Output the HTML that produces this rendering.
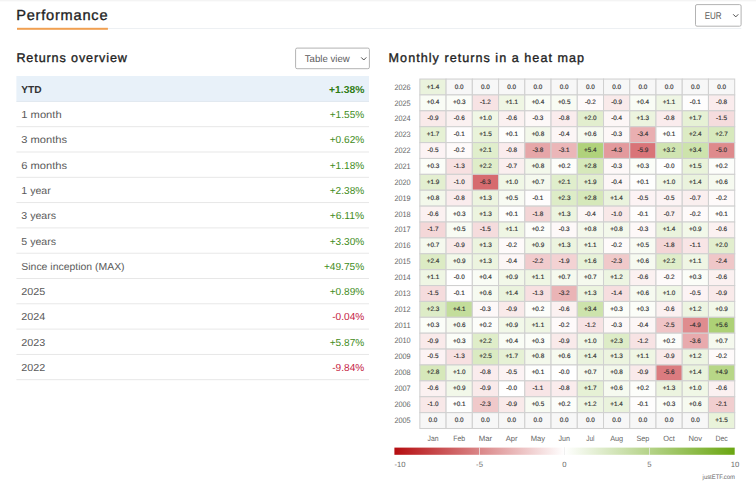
<!DOCTYPE html>
<html lang="en">
<head>
<meta charset="utf-8">
<title>Performance</title>
<style>
html,body{margin:0;padding:0;background:#fff;}
body{width:756px;height:483px;position:relative;overflow:hidden;}
svg.pg{position:absolute;left:0;top:0;display:block;font-family:"Liberation Sans",sans-serif;text-rendering:geometricPrecision;}
.h1{font-size:14.6px;fill:#222;stroke:#222;stroke-width:0.33px;letter-spacing:0.78px;}
.h2{font-size:12.6px;fill:#222;stroke:#222;stroke-width:0.33px;}
.sel{font-size:9.9px;fill:#5c5c5c;}
.tb text{font-size:10.2px;}
.tb .l{fill:#5a5a5a;}
.tb .l.b{fill:#333;font-weight:bold;}
.tb .v{text-anchor:end;}
.tb .v.b{font-weight:bold;}
.p{fill:#3f8c21;}
.n{fill:#c5223f;}
.p.b{fill:#2d7c12;}
.cl text{font-size:6.35px;fill:#333;stroke:#333;stroke-width:0.16px;text-anchor:middle;}
.yl text{font-size:7.9px;fill:#666;text-anchor:end;}
.ml text{font-size:7.7px;fill:#666;text-anchor:middle;}
.al text{font-size:7.7px;fill:#6c6c6c;text-anchor:middle;}
.cr{font-size:6.4px;fill:#666;text-anchor:end;}
</style>
</head>
<body>
<svg class="pg" width="756" height="483" viewBox="0 0 756 483">
<defs><linearGradient id="lg" x1="0" x2="1" y1="0" y2="0"><stop offset="0" stop-color="#b50d10"/><stop offset="0.5" stop-color="#ffffff"/><stop offset="1" stop-color="#6aa611"/></linearGradient></defs>
<rect x="0" y="0" width="756" height="1.4" fill="#f4f4f4"/>
<text class="h1" x="16.2" y="20.1">Performance</text>
<rect x="17" y="28.05" width="724.3" height="0.95" fill="#ecf0f3"/>
<rect x="17" y="27.8" width="90.9" height="2.0" fill="#f0a052"/>
<rect x="695.5" y="4.6" width="45.6" height="21.6" rx="1.5" fill="#fff" stroke="#b3b3b3" stroke-width="1"/>
<text class="sel" x="704.7" y="19.1" textLength="16.9" lengthAdjust="spacingAndGlyphs">EUR</text>
<path d="M733.2 14.3 L735.75 16.9 L738.3 14.3" fill="none" stroke="#4d4d4d" stroke-width="1.0"/>
<text class="h2" x="16.4" y="61.6" style="letter-spacing:0.88px">Returns overview</text>
<text class="h2" x="388.6" y="61.6" style="letter-spacing:1.03px">Monthly returns in a heat map</text>
<rect x="295.6" y="48.1" width="73.8" height="20.6" rx="1.5" fill="#fff" stroke="#b3b3b3" stroke-width="1"/>
<text class="sel" x="304.8" y="62.1" textLength="44.9" lengthAdjust="spacingAndGlyphs">Table view</text>
<path d="M361.2 57.4 L363.75 60.0 L366.3 57.4" fill="none" stroke="#4d4d4d" stroke-width="1.0"/>
<rect x="16.4" y="76.00" width="352.6" height="25.50" fill="#e8f1f9"/>
<g fill="#e0e0e0">
<rect x="16.4" y="100.95" width="352.6" height="0.9" fill="#dfe7ee"/>
<rect x="16.4" y="126.25" width="352.6" height="0.9" fill="#e5e5e5"/>
<rect x="16.4" y="151.55" width="352.6" height="0.9" fill="#e5e5e5"/>
<rect x="16.4" y="176.85" width="352.6" height="0.9" fill="#e5e5e5"/>
<rect x="16.4" y="202.15" width="352.6" height="0.9" fill="#e5e5e5"/>
<rect x="16.4" y="227.45" width="352.6" height="0.9" fill="#e5e5e5"/>
<rect x="16.4" y="252.75" width="352.6" height="0.9" fill="#e5e5e5"/>
<rect x="16.4" y="278.05" width="352.6" height="0.9" fill="#e5e5e5"/>
<rect x="16.4" y="303.35" width="352.6" height="0.9" fill="#e5e5e5"/>
<rect x="16.4" y="328.65" width="352.6" height="0.9" fill="#e5e5e5"/>
<rect x="16.4" y="353.95" width="352.6" height="0.9" fill="#e5e5e5"/>
<rect x="16.4" y="379.25" width="352.6" height="0.9" fill="#e5e5e5"/>
</g>
<g class="tb">
<text class="l b" x="21.3" y="92.70">YTD</text><text class="v p b" x="364.3" y="92.70" textLength="35.2" lengthAdjust="spacingAndGlyphs">+1.38%</text>
<text class="l" x="21.3" y="118.00" textLength="40.3" lengthAdjust="spacingAndGlyphs">1 month</text><text class="v p" x="364.3" y="118.00" textLength="34.6" lengthAdjust="spacingAndGlyphs">+1.55%</text>
<text class="l" x="21.3" y="143.30" textLength="45.8" lengthAdjust="spacingAndGlyphs">3 months</text><text class="v p" x="364.3" y="143.30" textLength="34.6" lengthAdjust="spacingAndGlyphs">+0.62%</text>
<text class="l" x="21.3" y="168.60" textLength="45.8" lengthAdjust="spacingAndGlyphs">6 months</text><text class="v p" x="364.3" y="168.60" textLength="34.6" lengthAdjust="spacingAndGlyphs">+1.18%</text>
<text class="l" x="21.3" y="193.90" textLength="29.5" lengthAdjust="spacingAndGlyphs">1 year</text><text class="v p" x="364.3" y="193.90" textLength="34.6" lengthAdjust="spacingAndGlyphs">+2.38%</text>
<text class="l" x="21.3" y="219.20" textLength="34.8" lengthAdjust="spacingAndGlyphs">3 years</text><text class="v p" x="364.3" y="219.20" textLength="34.6" lengthAdjust="spacingAndGlyphs">+6.11%</text>
<text class="l" x="21.3" y="244.50" textLength="34.8" lengthAdjust="spacingAndGlyphs">5 years</text><text class="v p" x="364.3" y="244.50" textLength="34.6" lengthAdjust="spacingAndGlyphs">+3.30%</text>
<text class="l" x="21.3" y="269.80" textLength="103.3" lengthAdjust="spacingAndGlyphs">Since inception (MAX)</text><text class="v p" x="364.3" y="269.80" textLength="40.4" lengthAdjust="spacingAndGlyphs">+49.75%</text>
<text class="l" x="21.3" y="295.10" textLength="24.0" lengthAdjust="spacingAndGlyphs">2025</text><text class="v p" x="364.3" y="295.10" textLength="34.6" lengthAdjust="spacingAndGlyphs">+0.89%</text>
<text class="l" x="21.3" y="320.40" textLength="24.0" lengthAdjust="spacingAndGlyphs">2024</text><text class="v n" x="364.3" y="320.40" textLength="32.1" lengthAdjust="spacingAndGlyphs">-0.04%</text>
<text class="l" x="21.3" y="345.70" textLength="24.0" lengthAdjust="spacingAndGlyphs">2023</text><text class="v p" x="364.3" y="345.70" textLength="34.6" lengthAdjust="spacingAndGlyphs">+5.87%</text>
<text class="l" x="21.3" y="371.00" textLength="24.0" lengthAdjust="spacingAndGlyphs">2022</text><text class="v n" x="364.3" y="371.00" textLength="32.1" lengthAdjust="spacingAndGlyphs">-9.84%</text>
</g>
<g stroke="#d0d0d0" stroke-width="1.05">
<rect x="419.85" y="79.05" width="26.24" height="15.88" fill="#eaf3dd"/>
<rect x="446.09" y="79.05" width="26.24" height="15.88" fill="#f7f7f7"/>
<rect x="472.33" y="79.05" width="26.24" height="15.88" fill="#f7f7f7"/>
<rect x="498.56" y="79.05" width="26.24" height="15.88" fill="#f7f7f7"/>
<rect x="524.80" y="79.05" width="26.24" height="15.88" fill="#f7f7f7"/>
<rect x="551.04" y="79.05" width="26.24" height="15.88" fill="#f7f7f7"/>
<rect x="577.28" y="79.05" width="26.24" height="15.88" fill="#f7f7f7"/>
<rect x="603.51" y="79.05" width="26.24" height="15.88" fill="#f7f7f7"/>
<rect x="629.75" y="79.05" width="26.24" height="15.88" fill="#f7f7f7"/>
<rect x="655.99" y="79.05" width="26.24" height="15.88" fill="#f7f7f7"/>
<rect x="682.23" y="79.05" width="26.24" height="15.88" fill="#f7f7f7"/>
<rect x="708.46" y="79.05" width="26.24" height="15.88" fill="#f7f7f7"/>
<rect x="419.85" y="94.93" width="26.24" height="15.88" fill="#f9fcf5"/>
<rect x="446.09" y="94.93" width="26.24" height="15.88" fill="#fbfdf8"/>
<rect x="472.33" y="94.93" width="26.24" height="15.88" fill="#f7e3e4"/>
<rect x="498.56" y="94.93" width="26.24" height="15.88" fill="#eff6e4"/>
<rect x="524.80" y="94.93" width="26.24" height="15.88" fill="#f9fcf5"/>
<rect x="551.04" y="94.93" width="26.24" height="15.88" fill="#f8fbf3"/>
<rect x="577.28" y="94.93" width="26.24" height="15.88" fill="#fefafa"/>
<rect x="603.51" y="94.93" width="26.24" height="15.88" fill="#f9eaea"/>
<rect x="629.75" y="94.93" width="26.24" height="15.88" fill="#f9fcf5"/>
<rect x="655.99" y="94.93" width="26.24" height="15.88" fill="#eff6e4"/>
<rect x="682.23" y="94.93" width="26.24" height="15.88" fill="#fefdfd"/>
<rect x="708.46" y="94.93" width="26.24" height="15.88" fill="#faeced"/>
<rect x="419.85" y="110.82" width="26.24" height="15.88" fill="#f9eaea"/>
<rect x="446.09" y="110.82" width="26.24" height="15.88" fill="#fbf1f1"/>
<rect x="472.33" y="110.82" width="26.24" height="15.88" fill="#f0f7e6"/>
<rect x="498.56" y="110.82" width="26.24" height="15.88" fill="#fbf1f1"/>
<rect x="524.80" y="110.82" width="26.24" height="15.88" fill="#fdf8f8"/>
<rect x="551.04" y="110.82" width="26.24" height="15.88" fill="#faeced"/>
<rect x="577.28" y="110.82" width="26.24" height="15.88" fill="#e2eece"/>
<rect x="603.51" y="110.82" width="26.24" height="15.88" fill="#fcf6f6"/>
<rect x="629.75" y="110.82" width="26.24" height="15.88" fill="#ecf4df"/>
<rect x="655.99" y="110.82" width="26.24" height="15.88" fill="#faeced"/>
<rect x="682.23" y="110.82" width="26.24" height="15.88" fill="#e6f1d5"/>
<rect x="708.46" y="110.82" width="26.24" height="15.88" fill="#f5dcdd"/>
<rect x="419.85" y="126.70" width="26.24" height="15.88" fill="#e6f1d5"/>
<rect x="446.09" y="126.70" width="26.24" height="15.88" fill="#fefdfd"/>
<rect x="472.33" y="126.70" width="26.24" height="15.88" fill="#e9f3da"/>
<rect x="498.56" y="126.70" width="26.24" height="15.88" fill="#fefefd"/>
<rect x="524.80" y="126.70" width="26.24" height="15.88" fill="#f3f8eb"/>
<rect x="551.04" y="126.70" width="26.24" height="15.88" fill="#fcf6f6"/>
<rect x="577.28" y="126.70" width="26.24" height="15.88" fill="#f6faf0"/>
<rect x="603.51" y="126.70" width="26.24" height="15.88" fill="#fdf8f8"/>
<rect x="629.75" y="126.70" width="26.24" height="15.88" fill="#e9afb1"/>
<rect x="655.99" y="126.70" width="26.24" height="15.88" fill="#fefefd"/>
<rect x="682.23" y="126.70" width="26.24" height="15.88" fill="#dcebc4"/>
<rect x="708.46" y="126.70" width="26.24" height="15.88" fill="#d7e9bd"/>
<rect x="419.85" y="142.59" width="26.24" height="15.88" fill="#fcf3f4"/>
<rect x="446.09" y="142.59" width="26.24" height="15.88" fill="#fefafa"/>
<rect x="472.33" y="142.59" width="26.24" height="15.88" fill="#e0eecc"/>
<rect x="498.56" y="142.59" width="26.24" height="15.88" fill="#faeced"/>
<rect x="524.80" y="142.59" width="26.24" height="15.88" fill="#e6a6a8"/>
<rect x="551.04" y="142.59" width="26.24" height="15.88" fill="#ebb6b8"/>
<rect x="577.28" y="142.59" width="26.24" height="15.88" fill="#b0d27b"/>
<rect x="603.51" y="142.59" width="26.24" height="15.88" fill="#e39a9d"/>
<rect x="629.75" y="142.59" width="26.24" height="15.88" fill="#d97478"/>
<rect x="655.99" y="142.59" width="26.24" height="15.88" fill="#d0e4b1"/>
<rect x="682.23" y="142.59" width="26.24" height="15.88" fill="#cde3ac"/>
<rect x="708.46" y="142.59" width="26.24" height="15.88" fill="#de8a8c"/>
<rect x="419.85" y="158.47" width="26.24" height="15.88" fill="#fbfdf8"/>
<rect x="446.09" y="158.47" width="26.24" height="15.88" fill="#f7e0e1"/>
<rect x="472.33" y="158.47" width="26.24" height="15.88" fill="#dfedc9"/>
<rect x="498.56" y="158.47" width="26.24" height="15.88" fill="#faefef"/>
<rect x="524.80" y="158.47" width="26.24" height="15.88" fill="#f3f8eb"/>
<rect x="551.04" y="158.47" width="26.24" height="15.88" fill="#fcfdfa"/>
<rect x="577.28" y="158.47" width="26.24" height="15.88" fill="#d6e8ba"/>
<rect x="603.51" y="158.47" width="26.24" height="15.88" fill="#fdf8f8"/>
<rect x="629.75" y="158.47" width="26.24" height="15.88" fill="#fbfdf8"/>
<rect x="655.99" y="158.47" width="26.24" height="15.88" fill="#ffffff"/>
<rect x="682.23" y="158.47" width="26.24" height="15.88" fill="#e9f3da"/>
<rect x="708.46" y="158.47" width="26.24" height="15.88" fill="#fcfdfa"/>
<rect x="419.85" y="174.35" width="26.24" height="15.88" fill="#e3efd0"/>
<rect x="446.09" y="174.35" width="26.24" height="15.88" fill="#f8e8e8"/>
<rect x="472.33" y="174.35" width="26.24" height="15.88" fill="#d66b6f"/>
<rect x="498.56" y="174.35" width="26.24" height="15.88" fill="#f0f7e6"/>
<rect x="524.80" y="174.35" width="26.24" height="15.88" fill="#f5f9ee"/>
<rect x="551.04" y="174.35" width="26.24" height="15.88" fill="#e0eecc"/>
<rect x="577.28" y="174.35" width="26.24" height="15.88" fill="#e3efd0"/>
<rect x="603.51" y="174.35" width="26.24" height="15.88" fill="#fcf6f6"/>
<rect x="629.75" y="174.35" width="26.24" height="15.88" fill="#fefefd"/>
<rect x="655.99" y="174.35" width="26.24" height="15.88" fill="#f0f7e6"/>
<rect x="682.23" y="174.35" width="26.24" height="15.88" fill="#eaf3dd"/>
<rect x="708.46" y="174.35" width="26.24" height="15.88" fill="#f6faf0"/>
<rect x="419.85" y="190.24" width="26.24" height="15.88" fill="#f3f8eb"/>
<rect x="446.09" y="190.24" width="26.24" height="15.88" fill="#faeced"/>
<rect x="472.33" y="190.24" width="26.24" height="15.88" fill="#ecf4df"/>
<rect x="498.56" y="190.24" width="26.24" height="15.88" fill="#f8fbf3"/>
<rect x="524.80" y="190.24" width="26.24" height="15.88" fill="#fefdfd"/>
<rect x="551.04" y="190.24" width="26.24" height="15.88" fill="#ddecc7"/>
<rect x="577.28" y="190.24" width="26.24" height="15.88" fill="#d6e8ba"/>
<rect x="603.51" y="190.24" width="26.24" height="15.88" fill="#eaf3dd"/>
<rect x="629.75" y="190.24" width="26.24" height="15.88" fill="#fcf3f4"/>
<rect x="655.99" y="190.24" width="26.24" height="15.88" fill="#fcf3f4"/>
<rect x="682.23" y="190.24" width="26.24" height="15.88" fill="#faefef"/>
<rect x="708.46" y="190.24" width="26.24" height="15.88" fill="#fefafa"/>
<rect x="419.85" y="206.12" width="26.24" height="15.88" fill="#fbf1f1"/>
<rect x="446.09" y="206.12" width="26.24" height="15.88" fill="#fbfdf8"/>
<rect x="472.33" y="206.12" width="26.24" height="15.88" fill="#ecf4df"/>
<rect x="498.56" y="206.12" width="26.24" height="15.88" fill="#fefefd"/>
<rect x="524.80" y="206.12" width="26.24" height="15.88" fill="#f3d5d6"/>
<rect x="551.04" y="206.12" width="26.24" height="15.88" fill="#ecf4df"/>
<rect x="577.28" y="206.12" width="26.24" height="15.88" fill="#fcf6f6"/>
<rect x="603.51" y="206.12" width="26.24" height="15.88" fill="#f8e8e8"/>
<rect x="629.75" y="206.12" width="26.24" height="15.88" fill="#fefdfd"/>
<rect x="655.99" y="206.12" width="26.24" height="15.88" fill="#faefef"/>
<rect x="682.23" y="206.12" width="26.24" height="15.88" fill="#fefafa"/>
<rect x="708.46" y="206.12" width="26.24" height="15.88" fill="#fefefd"/>
<rect x="419.85" y="222.01" width="26.24" height="15.88" fill="#f4d7d8"/>
<rect x="446.09" y="222.01" width="26.24" height="15.88" fill="#f8fbf3"/>
<rect x="472.33" y="222.01" width="26.24" height="15.88" fill="#f5dcdd"/>
<rect x="498.56" y="222.01" width="26.24" height="15.88" fill="#eff6e4"/>
<rect x="524.80" y="222.01" width="26.24" height="15.88" fill="#fcfdfa"/>
<rect x="551.04" y="222.01" width="26.24" height="15.88" fill="#fdf8f8"/>
<rect x="577.28" y="222.01" width="26.24" height="15.88" fill="#f3f8eb"/>
<rect x="603.51" y="222.01" width="26.24" height="15.88" fill="#f3f8eb"/>
<rect x="629.75" y="222.01" width="26.24" height="15.88" fill="#fdf8f8"/>
<rect x="655.99" y="222.01" width="26.24" height="15.88" fill="#eaf3dd"/>
<rect x="682.23" y="222.01" width="26.24" height="15.88" fill="#f2f8e9"/>
<rect x="708.46" y="222.01" width="26.24" height="15.88" fill="#fbf1f1"/>
<rect x="419.85" y="237.89" width="26.24" height="15.88" fill="#f5f9ee"/>
<rect x="446.09" y="237.89" width="26.24" height="15.88" fill="#f9eaea"/>
<rect x="472.33" y="237.89" width="26.24" height="15.88" fill="#ecf4df"/>
<rect x="498.56" y="237.89" width="26.24" height="15.88" fill="#fefafa"/>
<rect x="524.80" y="237.89" width="26.24" height="15.88" fill="#f2f8e9"/>
<rect x="551.04" y="237.89" width="26.24" height="15.88" fill="#ecf4df"/>
<rect x="577.28" y="237.89" width="26.24" height="15.88" fill="#eff6e4"/>
<rect x="603.51" y="237.89" width="26.24" height="15.88" fill="#fefafa"/>
<rect x="629.75" y="237.89" width="26.24" height="15.88" fill="#f8fbf3"/>
<rect x="655.99" y="237.89" width="26.24" height="15.88" fill="#f3d5d6"/>
<rect x="682.23" y="237.89" width="26.24" height="15.88" fill="#f8e5e6"/>
<rect x="708.46" y="237.89" width="26.24" height="15.88" fill="#e2eece"/>
<rect x="419.85" y="253.77" width="26.24" height="15.88" fill="#dcebc4"/>
<rect x="446.09" y="253.77" width="26.24" height="15.88" fill="#f2f8e9"/>
<rect x="472.33" y="253.77" width="26.24" height="15.88" fill="#ecf4df"/>
<rect x="498.56" y="253.77" width="26.24" height="15.88" fill="#fcf6f6"/>
<rect x="524.80" y="253.77" width="26.24" height="15.88" fill="#f1cbcd"/>
<rect x="551.04" y="253.77" width="26.24" height="15.88" fill="#f3d2d3"/>
<rect x="577.28" y="253.77" width="26.24" height="15.88" fill="#e7f2d8"/>
<rect x="603.51" y="253.77" width="26.24" height="15.88" fill="#f0c9ca"/>
<rect x="629.75" y="253.77" width="26.24" height="15.88" fill="#f6faf0"/>
<rect x="655.99" y="253.77" width="26.24" height="15.88" fill="#dfedc9"/>
<rect x="682.23" y="253.77" width="26.24" height="15.88" fill="#eff6e4"/>
<rect x="708.46" y="253.77" width="26.24" height="15.88" fill="#efc7c8"/>
<rect x="419.85" y="269.66" width="26.24" height="15.88" fill="#eff6e4"/>
<rect x="446.09" y="269.66" width="26.24" height="15.88" fill="#ffffff"/>
<rect x="472.33" y="269.66" width="26.24" height="15.88" fill="#f9fcf5"/>
<rect x="498.56" y="269.66" width="26.24" height="15.88" fill="#f2f8e9"/>
<rect x="524.80" y="269.66" width="26.24" height="15.88" fill="#eff6e4"/>
<rect x="551.04" y="269.66" width="26.24" height="15.88" fill="#f5f9ee"/>
<rect x="577.28" y="269.66" width="26.24" height="15.88" fill="#f5f9ee"/>
<rect x="603.51" y="269.66" width="26.24" height="15.88" fill="#edf5e2"/>
<rect x="629.75" y="269.66" width="26.24" height="15.88" fill="#fbf1f1"/>
<rect x="655.99" y="269.66" width="26.24" height="15.88" fill="#fefafa"/>
<rect x="682.23" y="269.66" width="26.24" height="15.88" fill="#fbfdf8"/>
<rect x="708.46" y="269.66" width="26.24" height="15.88" fill="#fbf1f1"/>
<rect x="419.85" y="285.54" width="26.24" height="15.88" fill="#f5dcdd"/>
<rect x="446.09" y="285.54" width="26.24" height="15.88" fill="#fefdfd"/>
<rect x="472.33" y="285.54" width="26.24" height="15.88" fill="#f6faf0"/>
<rect x="498.56" y="285.54" width="26.24" height="15.88" fill="#eaf3dd"/>
<rect x="524.80" y="285.54" width="26.24" height="15.88" fill="#f7e0e1"/>
<rect x="551.04" y="285.54" width="26.24" height="15.88" fill="#eab4b6"/>
<rect x="577.28" y="285.54" width="26.24" height="15.88" fill="#ecf4df"/>
<rect x="603.51" y="285.54" width="26.24" height="15.88" fill="#f6dedf"/>
<rect x="629.75" y="285.54" width="26.24" height="15.88" fill="#f6faf0"/>
<rect x="655.99" y="285.54" width="26.24" height="15.88" fill="#f0f7e6"/>
<rect x="682.23" y="285.54" width="26.24" height="15.88" fill="#fcf3f4"/>
<rect x="708.46" y="285.54" width="26.24" height="15.88" fill="#f9eaea"/>
<rect x="419.85" y="301.43" width="26.24" height="15.88" fill="#ddecc7"/>
<rect x="446.09" y="301.43" width="26.24" height="15.88" fill="#c3dd9b"/>
<rect x="472.33" y="301.43" width="26.24" height="15.88" fill="#fdf8f8"/>
<rect x="498.56" y="301.43" width="26.24" height="15.88" fill="#f9eaea"/>
<rect x="524.80" y="301.43" width="26.24" height="15.88" fill="#fcfdfa"/>
<rect x="551.04" y="301.43" width="26.24" height="15.88" fill="#fbf1f1"/>
<rect x="577.28" y="301.43" width="26.24" height="15.88" fill="#cde3ac"/>
<rect x="603.51" y="301.43" width="26.24" height="15.88" fill="#fbfdf8"/>
<rect x="629.75" y="301.43" width="26.24" height="15.88" fill="#fbfdf8"/>
<rect x="655.99" y="301.43" width="26.24" height="15.88" fill="#fbf1f1"/>
<rect x="682.23" y="301.43" width="26.24" height="15.88" fill="#edf5e2"/>
<rect x="708.46" y="301.43" width="26.24" height="15.88" fill="#f2f8e9"/>
<rect x="419.85" y="317.31" width="26.24" height="15.88" fill="#fbfdf8"/>
<rect x="446.09" y="317.31" width="26.24" height="15.88" fill="#f6faf0"/>
<rect x="472.33" y="317.31" width="26.24" height="15.88" fill="#fcfdfa"/>
<rect x="498.56" y="317.31" width="26.24" height="15.88" fill="#f2f8e9"/>
<rect x="524.80" y="317.31" width="26.24" height="15.88" fill="#eff6e4"/>
<rect x="551.04" y="317.31" width="26.24" height="15.88" fill="#fefafa"/>
<rect x="577.28" y="317.31" width="26.24" height="15.88" fill="#f7e3e4"/>
<rect x="603.51" y="317.31" width="26.24" height="15.88" fill="#fdf8f8"/>
<rect x="629.75" y="317.31" width="26.24" height="15.88" fill="#fcf6f6"/>
<rect x="655.99" y="317.31" width="26.24" height="15.88" fill="#efc4c6"/>
<rect x="682.23" y="317.31" width="26.24" height="15.88" fill="#df8c8f"/>
<rect x="708.46" y="317.31" width="26.24" height="15.88" fill="#add176"/>
<rect x="419.85" y="333.20" width="26.24" height="15.88" fill="#f9eaea"/>
<rect x="446.09" y="333.20" width="26.24" height="15.88" fill="#fbfdf8"/>
<rect x="472.33" y="333.20" width="26.24" height="15.88" fill="#dfedc9"/>
<rect x="498.56" y="333.20" width="26.24" height="15.88" fill="#f9fcf5"/>
<rect x="524.80" y="333.20" width="26.24" height="15.88" fill="#fbfdf8"/>
<rect x="551.04" y="333.20" width="26.24" height="15.88" fill="#f9eaea"/>
<rect x="577.28" y="333.20" width="26.24" height="15.88" fill="#f0f7e6"/>
<rect x="603.51" y="333.20" width="26.24" height="15.88" fill="#ddecc7"/>
<rect x="629.75" y="333.20" width="26.24" height="15.88" fill="#f7e3e4"/>
<rect x="655.99" y="333.20" width="26.24" height="15.88" fill="#fcfdfa"/>
<rect x="682.23" y="333.20" width="26.24" height="15.88" fill="#e8aaad"/>
<rect x="708.46" y="333.20" width="26.24" height="15.88" fill="#f5f9ee"/>
<rect x="419.85" y="349.08" width="26.24" height="15.88" fill="#fcf3f4"/>
<rect x="446.09" y="349.08" width="26.24" height="15.88" fill="#f7e0e1"/>
<rect x="472.33" y="349.08" width="26.24" height="15.88" fill="#daeac2"/>
<rect x="498.56" y="349.08" width="26.24" height="15.88" fill="#e6f1d5"/>
<rect x="524.80" y="349.08" width="26.24" height="15.88" fill="#f3f8eb"/>
<rect x="551.04" y="349.08" width="26.24" height="15.88" fill="#f6faf0"/>
<rect x="577.28" y="349.08" width="26.24" height="15.88" fill="#eaf3dd"/>
<rect x="603.51" y="349.08" width="26.24" height="15.88" fill="#ecf4df"/>
<rect x="629.75" y="349.08" width="26.24" height="15.88" fill="#eff6e4"/>
<rect x="655.99" y="349.08" width="26.24" height="15.88" fill="#f9eaea"/>
<rect x="682.23" y="349.08" width="26.24" height="15.88" fill="#edf5e2"/>
<rect x="708.46" y="349.08" width="26.24" height="15.88" fill="#fefafa"/>
<rect x="419.85" y="364.96" width="26.24" height="15.88" fill="#d6e8ba"/>
<rect x="446.09" y="364.96" width="26.24" height="15.88" fill="#f0f7e6"/>
<rect x="472.33" y="364.96" width="26.24" height="15.88" fill="#faeced"/>
<rect x="498.56" y="364.96" width="26.24" height="15.88" fill="#fcf3f4"/>
<rect x="524.80" y="364.96" width="26.24" height="15.88" fill="#fefefd"/>
<rect x="551.04" y="364.96" width="26.24" height="15.88" fill="#ffffff"/>
<rect x="577.28" y="364.96" width="26.24" height="15.88" fill="#f5f9ee"/>
<rect x="603.51" y="364.96" width="26.24" height="15.88" fill="#f3f8eb"/>
<rect x="629.75" y="364.96" width="26.24" height="15.88" fill="#f9eaea"/>
<rect x="655.99" y="364.96" width="26.24" height="15.88" fill="#db7b7f"/>
<rect x="682.23" y="364.96" width="26.24" height="15.88" fill="#eaf3dd"/>
<rect x="708.46" y="364.96" width="26.24" height="15.88" fill="#b7d687"/>
<rect x="419.85" y="380.85" width="26.24" height="15.88" fill="#fbf1f1"/>
<rect x="446.09" y="380.85" width="26.24" height="15.88" fill="#f2f8e9"/>
<rect x="472.33" y="380.85" width="26.24" height="15.88" fill="#f9eaea"/>
<rect x="498.56" y="380.85" width="26.24" height="15.88" fill="#ffffff"/>
<rect x="524.80" y="380.85" width="26.24" height="15.88" fill="#f8e5e6"/>
<rect x="551.04" y="380.85" width="26.24" height="15.88" fill="#faeced"/>
<rect x="577.28" y="380.85" width="26.24" height="15.88" fill="#e6f1d5"/>
<rect x="603.51" y="380.85" width="26.24" height="15.88" fill="#f6faf0"/>
<rect x="629.75" y="380.85" width="26.24" height="15.88" fill="#fcfdfa"/>
<rect x="655.99" y="380.85" width="26.24" height="15.88" fill="#ecf4df"/>
<rect x="682.23" y="380.85" width="26.24" height="15.88" fill="#f0f7e6"/>
<rect x="708.46" y="380.85" width="26.24" height="15.88" fill="#fbf1f1"/>
<rect x="419.85" y="396.73" width="26.24" height="15.88" fill="#f8e8e8"/>
<rect x="446.09" y="396.73" width="26.24" height="15.88" fill="#fefefd"/>
<rect x="472.33" y="396.73" width="26.24" height="15.88" fill="#f0c9ca"/>
<rect x="498.56" y="396.73" width="26.24" height="15.88" fill="#f9eaea"/>
<rect x="524.80" y="396.73" width="26.24" height="15.88" fill="#f8fbf3"/>
<rect x="551.04" y="396.73" width="26.24" height="15.88" fill="#fcfdfa"/>
<rect x="577.28" y="396.73" width="26.24" height="15.88" fill="#edf5e2"/>
<rect x="603.51" y="396.73" width="26.24" height="15.88" fill="#eaf3dd"/>
<rect x="629.75" y="396.73" width="26.24" height="15.88" fill="#fefdfd"/>
<rect x="655.99" y="396.73" width="26.24" height="15.88" fill="#fbfdf8"/>
<rect x="682.23" y="396.73" width="26.24" height="15.88" fill="#f6faf0"/>
<rect x="708.46" y="396.73" width="26.24" height="15.88" fill="#f1cecf"/>
<rect x="419.85" y="412.62" width="26.24" height="15.88" fill="#f7f7f7"/>
<rect x="446.09" y="412.62" width="26.24" height="15.88" fill="#f7f7f7"/>
<rect x="472.33" y="412.62" width="26.24" height="15.88" fill="#f7f7f7"/>
<rect x="498.56" y="412.62" width="26.24" height="15.88" fill="#f7f7f7"/>
<rect x="524.80" y="412.62" width="26.24" height="15.88" fill="#f7f7f7"/>
<rect x="551.04" y="412.62" width="26.24" height="15.88" fill="#f7f7f7"/>
<rect x="577.28" y="412.62" width="26.24" height="15.88" fill="#f7f7f7"/>
<rect x="603.51" y="412.62" width="26.24" height="15.88" fill="#f7f7f7"/>
<rect x="629.75" y="412.62" width="26.24" height="15.88" fill="#f7f7f7"/>
<rect x="655.99" y="412.62" width="26.24" height="15.88" fill="#f7f7f7"/>
<rect x="682.23" y="412.62" width="26.24" height="15.88" fill="#f7f7f7"/>
<rect x="708.46" y="412.62" width="26.24" height="15.88" fill="#e9f3da"/>
</g>
<g class="cl">
<text x="432.97" y="88.61">+1.4</text>
<text x="459.21" y="88.61">0.0</text>
<text x="485.44" y="88.61">0.0</text>
<text x="511.68" y="88.61">0.0</text>
<text x="537.92" y="88.61">0.0</text>
<text x="564.16" y="88.61">0.0</text>
<text x="590.39" y="88.61">0.0</text>
<text x="616.63" y="88.61">0.0</text>
<text x="642.87" y="88.61">0.0</text>
<text x="669.11" y="88.61">0.0</text>
<text x="695.34" y="88.61">0.0</text>
<text x="721.58" y="88.61">0.0</text>
<text x="432.97" y="104.48">+0.4</text>
<text x="459.21" y="104.48">+0.3</text>
<text x="485.44" y="104.48">-1.2</text>
<text x="511.68" y="104.48">+1.1</text>
<text x="537.92" y="104.48">+0.4</text>
<text x="564.16" y="104.48">+0.5</text>
<text x="590.39" y="104.48">-0.2</text>
<text x="616.63" y="104.48">-0.9</text>
<text x="642.87" y="104.48">+0.4</text>
<text x="669.11" y="104.48">+1.1</text>
<text x="695.34" y="104.48">-0.1</text>
<text x="721.58" y="104.48">-0.8</text>
<text x="432.97" y="120.36">-0.9</text>
<text x="459.21" y="120.36">-0.6</text>
<text x="485.44" y="120.36">+1.0</text>
<text x="511.68" y="120.36">-0.6</text>
<text x="537.92" y="120.36">-0.3</text>
<text x="564.16" y="120.36">-0.8</text>
<text x="590.39" y="120.36">+2.0</text>
<text x="616.63" y="120.36">-0.4</text>
<text x="642.87" y="120.36">+1.3</text>
<text x="669.11" y="120.36">-0.8</text>
<text x="695.34" y="120.36">+1.7</text>
<text x="721.58" y="120.36">-1.5</text>
<text x="432.97" y="136.23">+1.7</text>
<text x="459.21" y="136.23">-0.1</text>
<text x="485.44" y="136.23">+1.5</text>
<text x="511.68" y="136.23">+0.1</text>
<text x="537.92" y="136.23">+0.8</text>
<text x="564.16" y="136.23">-0.4</text>
<text x="590.39" y="136.23">+0.6</text>
<text x="616.63" y="136.23">-0.3</text>
<text x="642.87" y="136.23">-3.4</text>
<text x="669.11" y="136.23">+0.1</text>
<text x="695.34" y="136.23">+2.4</text>
<text x="721.58" y="136.23">+2.7</text>
<text x="432.97" y="152.10">-0.5</text>
<text x="459.21" y="152.10">-0.2</text>
<text x="485.44" y="152.10">+2.1</text>
<text x="511.68" y="152.10">-0.8</text>
<text x="537.92" y="152.10">-3.8</text>
<text x="564.16" y="152.10">-3.1</text>
<text x="590.39" y="152.10">+5.4</text>
<text x="616.63" y="152.10">-4.3</text>
<text x="642.87" y="152.10">-5.9</text>
<text x="669.11" y="152.10">+3.2</text>
<text x="695.34" y="152.10">+3.4</text>
<text x="721.58" y="152.10">-5.0</text>
<text x="432.97" y="167.97">+0.3</text>
<text x="459.21" y="167.97">-1.3</text>
<text x="485.44" y="167.97">+2.2</text>
<text x="511.68" y="167.97">-0.7</text>
<text x="537.92" y="167.97">+0.8</text>
<text x="564.16" y="167.97">+0.2</text>
<text x="590.39" y="167.97">+2.8</text>
<text x="616.63" y="167.97">-0.3</text>
<text x="642.87" y="167.97">+0.3</text>
<text x="669.11" y="167.97">-0.0</text>
<text x="695.34" y="167.97">+1.5</text>
<text x="721.58" y="167.97">+0.2</text>
<text x="432.97" y="183.84">+1.9</text>
<text x="459.21" y="183.84">-1.0</text>
<text x="485.44" y="183.84">-6.3</text>
<text x="511.68" y="183.84">+1.0</text>
<text x="537.92" y="183.84">+0.7</text>
<text x="564.16" y="183.84">+2.1</text>
<text x="590.39" y="183.84">+1.9</text>
<text x="616.63" y="183.84">-0.4</text>
<text x="642.87" y="183.84">+0.1</text>
<text x="669.11" y="183.84">+1.0</text>
<text x="695.34" y="183.84">+1.4</text>
<text x="721.58" y="183.84">+0.6</text>
<text x="432.97" y="199.72">+0.8</text>
<text x="459.21" y="199.72">-0.8</text>
<text x="485.44" y="199.72">+1.3</text>
<text x="511.68" y="199.72">+0.5</text>
<text x="537.92" y="199.72">-0.1</text>
<text x="564.16" y="199.72">+2.3</text>
<text x="590.39" y="199.72">+2.8</text>
<text x="616.63" y="199.72">+1.4</text>
<text x="642.87" y="199.72">-0.5</text>
<text x="669.11" y="199.72">-0.5</text>
<text x="695.34" y="199.72">-0.7</text>
<text x="721.58" y="199.72">-0.2</text>
<text x="432.97" y="215.59">-0.6</text>
<text x="459.21" y="215.59">+0.3</text>
<text x="485.44" y="215.59">+1.3</text>
<text x="511.68" y="215.59">+0.1</text>
<text x="537.92" y="215.59">-1.8</text>
<text x="564.16" y="215.59">+1.3</text>
<text x="590.39" y="215.59">-0.4</text>
<text x="616.63" y="215.59">-1.0</text>
<text x="642.87" y="215.59">-0.1</text>
<text x="669.11" y="215.59">-0.7</text>
<text x="695.34" y="215.59">-0.2</text>
<text x="721.58" y="215.59">+0.1</text>
<text x="432.97" y="231.46">-1.7</text>
<text x="459.21" y="231.46">+0.5</text>
<text x="485.44" y="231.46">-1.5</text>
<text x="511.68" y="231.46">+1.1</text>
<text x="537.92" y="231.46">+0.2</text>
<text x="564.16" y="231.46">-0.3</text>
<text x="590.39" y="231.46">+0.8</text>
<text x="616.63" y="231.46">+0.8</text>
<text x="642.87" y="231.46">-0.3</text>
<text x="669.11" y="231.46">+1.4</text>
<text x="695.34" y="231.46">+0.9</text>
<text x="721.58" y="231.46">-0.6</text>
<text x="432.97" y="247.33">+0.7</text>
<text x="459.21" y="247.33">-0.9</text>
<text x="485.44" y="247.33">+1.3</text>
<text x="511.68" y="247.33">-0.2</text>
<text x="537.92" y="247.33">+0.9</text>
<text x="564.16" y="247.33">+1.3</text>
<text x="590.39" y="247.33">+1.1</text>
<text x="616.63" y="247.33">-0.2</text>
<text x="642.87" y="247.33">+0.5</text>
<text x="669.11" y="247.33">-1.8</text>
<text x="695.34" y="247.33">-1.1</text>
<text x="721.58" y="247.33">+2.0</text>
<text x="432.97" y="263.21">+2.4</text>
<text x="459.21" y="263.21">+0.9</text>
<text x="485.44" y="263.21">+1.3</text>
<text x="511.68" y="263.21">-0.4</text>
<text x="537.92" y="263.21">-2.2</text>
<text x="564.16" y="263.21">-1.9</text>
<text x="590.39" y="263.21">+1.6</text>
<text x="616.63" y="263.21">-2.3</text>
<text x="642.87" y="263.21">+0.6</text>
<text x="669.11" y="263.21">+2.2</text>
<text x="695.34" y="263.21">+1.1</text>
<text x="721.58" y="263.21">-2.4</text>
<text x="432.97" y="279.08">+1.1</text>
<text x="459.21" y="279.08">-0.0</text>
<text x="485.44" y="279.08">+0.4</text>
<text x="511.68" y="279.08">+0.9</text>
<text x="537.92" y="279.08">+1.1</text>
<text x="564.16" y="279.08">+0.7</text>
<text x="590.39" y="279.08">+0.7</text>
<text x="616.63" y="279.08">+1.2</text>
<text x="642.87" y="279.08">-0.6</text>
<text x="669.11" y="279.08">-0.2</text>
<text x="695.34" y="279.08">+0.3</text>
<text x="721.58" y="279.08">-0.6</text>
<text x="432.97" y="294.95">-1.5</text>
<text x="459.21" y="294.95">-0.1</text>
<text x="485.44" y="294.95">+0.6</text>
<text x="511.68" y="294.95">+1.4</text>
<text x="537.92" y="294.95">-1.3</text>
<text x="564.16" y="294.95">-3.2</text>
<text x="590.39" y="294.95">+1.3</text>
<text x="616.63" y="294.95">-1.4</text>
<text x="642.87" y="294.95">+0.6</text>
<text x="669.11" y="294.95">+1.0</text>
<text x="695.34" y="294.95">-0.5</text>
<text x="721.58" y="294.95">-0.9</text>
<text x="432.97" y="310.82">+2.3</text>
<text x="459.21" y="310.82">+4.1</text>
<text x="485.44" y="310.82">-0.3</text>
<text x="511.68" y="310.82">-0.9</text>
<text x="537.92" y="310.82">+0.2</text>
<text x="564.16" y="310.82">-0.6</text>
<text x="590.39" y="310.82">+3.4</text>
<text x="616.63" y="310.82">+0.3</text>
<text x="642.87" y="310.82">+0.3</text>
<text x="669.11" y="310.82">-0.6</text>
<text x="695.34" y="310.82">+1.2</text>
<text x="721.58" y="310.82">+0.9</text>
<text x="432.97" y="326.69">+0.3</text>
<text x="459.21" y="326.69">+0.6</text>
<text x="485.44" y="326.69">+0.2</text>
<text x="511.68" y="326.69">+0.9</text>
<text x="537.92" y="326.69">+1.1</text>
<text x="564.16" y="326.69">-0.2</text>
<text x="590.39" y="326.69">-1.2</text>
<text x="616.63" y="326.69">-0.3</text>
<text x="642.87" y="326.69">-0.4</text>
<text x="669.11" y="326.69">-2.5</text>
<text x="695.34" y="326.69">-4.9</text>
<text x="721.58" y="326.69">+5.6</text>
<text x="432.97" y="342.57">-0.9</text>
<text x="459.21" y="342.57">+0.3</text>
<text x="485.44" y="342.57">+2.2</text>
<text x="511.68" y="342.57">+0.4</text>
<text x="537.92" y="342.57">+0.3</text>
<text x="564.16" y="342.57">-0.9</text>
<text x="590.39" y="342.57">+1.0</text>
<text x="616.63" y="342.57">+2.3</text>
<text x="642.87" y="342.57">-1.2</text>
<text x="669.11" y="342.57">+0.2</text>
<text x="695.34" y="342.57">-3.6</text>
<text x="721.58" y="342.57">+0.7</text>
<text x="432.97" y="358.44">-0.5</text>
<text x="459.21" y="358.44">-1.3</text>
<text x="485.44" y="358.44">+2.5</text>
<text x="511.68" y="358.44">+1.7</text>
<text x="537.92" y="358.44">+0.8</text>
<text x="564.16" y="358.44">+0.6</text>
<text x="590.39" y="358.44">+1.4</text>
<text x="616.63" y="358.44">+1.3</text>
<text x="642.87" y="358.44">+1.1</text>
<text x="669.11" y="358.44">-0.9</text>
<text x="695.34" y="358.44">+1.2</text>
<text x="721.58" y="358.44">-0.2</text>
<text x="432.97" y="374.31">+2.8</text>
<text x="459.21" y="374.31">+1.0</text>
<text x="485.44" y="374.31">-0.8</text>
<text x="511.68" y="374.31">-0.5</text>
<text x="537.92" y="374.31">+0.1</text>
<text x="564.16" y="374.31">-0.0</text>
<text x="590.39" y="374.31">+0.7</text>
<text x="616.63" y="374.31">+0.8</text>
<text x="642.87" y="374.31">-0.9</text>
<text x="669.11" y="374.31">-5.6</text>
<text x="695.34" y="374.31">+1.4</text>
<text x="721.58" y="374.31">+4.9</text>
<text x="432.97" y="390.18">-0.6</text>
<text x="459.21" y="390.18">+0.9</text>
<text x="485.44" y="390.18">-0.9</text>
<text x="511.68" y="390.18">-0.0</text>
<text x="537.92" y="390.18">-1.1</text>
<text x="564.16" y="390.18">-0.8</text>
<text x="590.39" y="390.18">+1.7</text>
<text x="616.63" y="390.18">+0.6</text>
<text x="642.87" y="390.18">+0.2</text>
<text x="669.11" y="390.18">+1.3</text>
<text x="695.34" y="390.18">+1.0</text>
<text x="721.58" y="390.18">-0.6</text>
<text x="432.97" y="406.05">-1.0</text>
<text x="459.21" y="406.05">+0.1</text>
<text x="485.44" y="406.05">-2.3</text>
<text x="511.68" y="406.05">-0.9</text>
<text x="537.92" y="406.05">+0.5</text>
<text x="564.16" y="406.05">+0.2</text>
<text x="590.39" y="406.05">+1.2</text>
<text x="616.63" y="406.05">+1.4</text>
<text x="642.87" y="406.05">-0.1</text>
<text x="669.11" y="406.05">+0.3</text>
<text x="695.34" y="406.05">+0.6</text>
<text x="721.58" y="406.05">-2.1</text>
<text x="432.97" y="421.93">0.0</text>
<text x="459.21" y="421.93">0.0</text>
<text x="485.44" y="421.93">0.0</text>
<text x="511.68" y="421.93">0.0</text>
<text x="537.92" y="421.93">0.0</text>
<text x="564.16" y="421.93">0.0</text>
<text x="590.39" y="421.93">0.0</text>
<text x="616.63" y="421.93">0.0</text>
<text x="642.87" y="421.93">0.0</text>
<text x="669.11" y="421.93">0.0</text>
<text x="695.34" y="421.93">0.0</text>
<text x="721.58" y="421.93">+1.5</text>
</g>
<g class="yl">
<text x="410.7" y="89.74" textLength="16.3" lengthAdjust="spacingAndGlyphs">2026</text>
<text x="410.7" y="105.60" textLength="16.3" lengthAdjust="spacingAndGlyphs">2025</text>
<text x="410.7" y="121.45" textLength="16.3" lengthAdjust="spacingAndGlyphs">2024</text>
<text x="410.7" y="137.30" textLength="16.3" lengthAdjust="spacingAndGlyphs">2023</text>
<text x="410.7" y="153.16" textLength="16.3" lengthAdjust="spacingAndGlyphs">2022</text>
<text x="410.7" y="169.01" textLength="16.3" lengthAdjust="spacingAndGlyphs">2021</text>
<text x="410.7" y="184.87" textLength="16.3" lengthAdjust="spacingAndGlyphs">2020</text>
<text x="410.7" y="200.72" textLength="16.3" lengthAdjust="spacingAndGlyphs">2019</text>
<text x="410.7" y="216.57" textLength="16.3" lengthAdjust="spacingAndGlyphs">2018</text>
<text x="410.7" y="232.43" textLength="16.3" lengthAdjust="spacingAndGlyphs">2017</text>
<text x="410.7" y="248.28" textLength="16.3" lengthAdjust="spacingAndGlyphs">2016</text>
<text x="410.7" y="264.14" textLength="16.3" lengthAdjust="spacingAndGlyphs">2015</text>
<text x="410.7" y="279.99" textLength="16.3" lengthAdjust="spacingAndGlyphs">2014</text>
<text x="410.7" y="295.85" textLength="16.3" lengthAdjust="spacingAndGlyphs">2013</text>
<text x="410.7" y="311.70" textLength="16.3" lengthAdjust="spacingAndGlyphs">2012</text>
<text x="410.7" y="327.55" textLength="16.3" lengthAdjust="spacingAndGlyphs">2011</text>
<text x="410.7" y="343.41" textLength="16.3" lengthAdjust="spacingAndGlyphs">2010</text>
<text x="410.7" y="359.26" textLength="16.3" lengthAdjust="spacingAndGlyphs">2009</text>
<text x="410.7" y="375.12" textLength="16.3" lengthAdjust="spacingAndGlyphs">2008</text>
<text x="410.7" y="390.97" textLength="16.3" lengthAdjust="spacingAndGlyphs">2007</text>
<text x="410.7" y="406.82" textLength="16.3" lengthAdjust="spacingAndGlyphs">2006</text>
<text x="410.7" y="422.68" textLength="16.3" lengthAdjust="spacingAndGlyphs">2005</text>
</g>
<g class="ml">
<text x="432.97" y="441.1" textLength="11.0" lengthAdjust="spacingAndGlyphs">Jan</text>
<text x="459.21" y="441.1" textLength="12.0" lengthAdjust="spacingAndGlyphs">Feb</text>
<text x="485.44" y="441.1" textLength="13.5" lengthAdjust="spacingAndGlyphs">Mar</text>
<text x="511.68" y="441.1" textLength="11.9" lengthAdjust="spacingAndGlyphs">Apr</text>
<text x="537.92" y="441.1" textLength="14.4" lengthAdjust="spacingAndGlyphs">May</text>
<text x="564.16" y="441.1" textLength="11.5" lengthAdjust="spacingAndGlyphs">Jun</text>
<text x="590.39" y="441.1" textLength="8.2" lengthAdjust="spacingAndGlyphs">Jul</text>
<text x="616.63" y="441.1" textLength="13.0" lengthAdjust="spacingAndGlyphs">Aug</text>
<text x="642.87" y="441.1" textLength="12.9" lengthAdjust="spacingAndGlyphs">Sep</text>
<text x="669.11" y="441.1" textLength="11.6" lengthAdjust="spacingAndGlyphs">Oct</text>
<text x="695.34" y="441.1" textLength="13.5" lengthAdjust="spacingAndGlyphs">Nov</text>
<text x="721.58" y="441.1" textLength="12.4" lengthAdjust="spacingAndGlyphs">Dec</text>
</g>
<rect x="394.4" y="447.6" width="340.3" height="7.2" fill="url(#lg)"/>
<g fill="#ececec" opacity="0.85"><rect x="479.05" y="447.3" width="0.9" height="7.7"/><rect x="564.05" y="447.3" width="0.9" height="7.7"/><rect x="649.05" y="447.3" width="0.9" height="7.7"/></g>
<g class="al">
<text x="394.4" y="467.1" style="text-anchor:start">-10</text>
<text x="479.5" y="467.1">-5</text>
<text x="564.5" y="467.1">0</text>
<text x="649.5" y="467.1">5</text>
<text x="735" y="467.1">10</text>
</g>
<text class="cr" x="734.9" y="479.2" textLength="32.3" lengthAdjust="spacingAndGlyphs">justETF.com</text>
</svg>
</body>
</html>
